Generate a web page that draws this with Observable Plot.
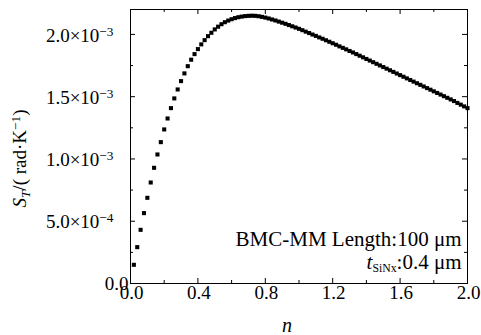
<!DOCTYPE html>
<html><head><meta charset="utf-8">
<script src="https://cdn.jsdelivr.net/npm/d3@7"></script>
<script src="https://cdn.jsdelivr.net/npm/@observablehq/plot@0.6"></script>
<style>
body{margin:0;background:#fff}
</style>
</head><body><div id="chart"></div>
<script>
// n values (x) and S_T values in units of 1e-3 rad/K (y)
const nValues = [
0.02,0.04,0.06,0.08,0.10,0.12,0.14,0.16,0.18,0.20,
0.22,0.24,0.26,0.28,0.30,0.32,0.34,0.36,0.38,0.40,
0.42,0.44,0.46,0.48,0.50,0.52,0.54,0.56,0.58,0.60,
0.62,0.64,0.66,0.68,0.70,0.72,0.74,0.76,0.78,0.80,
0.82,0.84,0.86,0.88,0.90,0.92,0.94,0.96,0.98,1.00,
1.02,1.04,1.06,1.08,1.10,1.12,1.14,1.16,1.18,1.20,
1.22,1.24,1.26,1.28,1.30,1.32,1.34,1.36,1.38,1.40,
1.42,1.44,1.46,1.48,1.50,1.52,1.54,1.56,1.58,1.60,
1.62,1.64,1.66,1.68,1.70,1.72,1.74,1.76,1.78,1.80,
1.82,1.84,1.86,1.88,1.90,1.92,1.94,1.96,1.98,2.00];
const stValues = [
0.150,0.292,0.431,0.565,0.688,0.811,0.929,1.036,1.135,1.237,
1.325,1.408,1.486,1.558,1.625,1.687,1.745,1.797,1.842,1.882,
1.920,1.954,1.986,2.013,2.040,2.062,2.082,2.098,2.111,2.122,
2.131,2.138,2.143,2.147,2.149,2.150,2.149,2.146,2.141,2.135,
2.128,2.120,2.112,2.103,2.094,2.085,2.075,2.065,2.055,2.045,
2.034,2.022,2.011,1.999,1.988,1.976,1.965,1.953,1.941,1.929,
1.917,1.904,1.892,1.880,1.867,1.855,1.842,1.829,1.816,1.803,
1.790,1.777,1.764,1.751,1.738,1.725,1.712,1.699,1.686,1.673,
1.660,1.647,1.634,1.621,1.608,1.595,1.582,1.569,1.556,1.543,
1.530,1.517,1.504,1.491,1.478,1.465,1.450,1.436,1.422,1.408];

const xTicks = [0, 0.4, 0.8, 1.2, 1.6, 2.0];
const xTickLabels = ["0.0", "0.4", "0.8", "1.2", "1.6", "2.0"];
const xMinorTicks = [0.2, 0.6, 1.0, 1.4, 1.8];
const yTicks = [0, 0.5e-3, 1.0e-3, 1.5e-3, 2.0e-3];
const yTickLabels = ["0.0", "5.0×10", "1.0×10", "1.5×10", "2.0×10"];
const yTickExponents = ["", "−4", "−3", "−3", "−3"];
const yMinorTicks = [0.25e-3, 0.75e-3, 1.25e-3, 1.75e-3];
const xLabel = "n";
const yLabelParts = ["S", "T", "/( rad·K", "−1", ")"];
const annotLine1 = "BMC-MM Length:100 μm";
const annotLine2Parts = ["t", "SiNx", ":0.4 μm"];

const data = nValues.map((n, i) => ({n, st: stValues[i] * 1e-3}));

const W = 481, H = 335, ML = 130, MR = 14, MT = 9, MB = 52;
const FW = W - ML - MR, FH = H - MT - MB;
const major = 5, minor = 3;
const fs = 19;
const FF = "Times New Roman, Liberation Serif, DejaVu Serif, serif";

const chart = Plot.plot({
  width: W, height: H,
  marginLeft: ML, marginRight: MR, marginTop: MT, marginBottom: MB,
  style: {color: "black", background: "white"},
  x: {domain: [0, 2.0], axis: null},
  y: {domain: [0, 2.2e-3], axis: null},
  marks: [
    Plot.frame({stroke: "black", strokeWidth: 1}),
    // inward ticks
    Plot.tickX(xTicks, {x: d => d, insetTop: FH - major, stroke: "black"}),
    Plot.tickX(xTicks, {x: d => d, insetBottom: FH - major, stroke: "black"}),
    Plot.tickX(xMinorTicks, {x: d => d, insetTop: FH - minor, stroke: "black"}),
    Plot.tickX(xMinorTicks, {x: d => d, insetBottom: FH - minor, stroke: "black"}),
    Plot.tickY(yTicks, {y: d => d, insetRight: FW - major, stroke: "black"}),
    Plot.tickY(yTicks, {y: d => d, insetLeft: FW - major, stroke: "black"}),
    Plot.tickY(yMinorTicks, {y: d => d, insetRight: FW - minor, stroke: "black"}),
    Plot.tickY(yMinorTicks, {y: d => d, insetLeft: FW - minor, stroke: "black"}),
    // tick labels
    Plot.text(xTicks, {x: d => d, text: d => xTickLabels[xTicks.indexOf(d)], frameAnchor: "bottom", lineAnchor: "top", dy: 2, dx: 1, fontSize: fs, fill: "black"}),
    Plot.text(yTicks.slice(1), {y: d => d, text: d => yTickLabels[yTicks.indexOf(d)], frameAnchor: "left", textAnchor: "end", dx: -17, dy: 1, fontSize: fs, fill: "black"}),
    Plot.text(yTicks.slice(0, 1), {y: d => d, text: d => yTickLabels[yTicks.indexOf(d)], frameAnchor: "left", textAnchor: "end", dx: -2, fontSize: fs, fill: "black"}),
    // data
    Plot.dot(data, {x: "n", y: "st", symbol: "square", r: 2.3, fill: "black", stroke: "none"}),
    // axis titles
    Plot.text([xLabel], {frameAnchor: "bottom", lineAnchor: "bottom", dy: 48, dx: -12, fontSize: 20, fontStyle: "italic", fill: "black"}),
    Plot.text([yLabelParts.join("")], {frameAnchor: "left", textAnchor: "middle", rotate: -90, dx: -111, dy: 12, fontSize: fs, fill: "black"}),
    // annotation
    Plot.text([annotLine1], {frameAnchor: "bottom-right", textAnchor: "end", lineAnchor: "bottom", dx: -6, dy: -38, fontSize: 21, fill: "black"}),
    Plot.text([annotLine2Parts.join("")], {frameAnchor: "bottom-right", textAnchor: "end", lineAnchor: "bottom", dx: -6, dy: -15, fontSize: 21, fill: "black"})
  ]
});

document.getElementById("chart").appendChild(chart);

const svg = d3.select(chart);
// serif font on every text
svg.attr("font-family", FF).style("font-family", FF);
svg.selectAll("text").attr("font-family", FF).style("font-family", FF);

// rich text post-processing (superscripts, subscripts, italics)
svg.selectAll("text").each(function() {
  const t = this.textContent;
  const sel = d3.select(this);
  const yi = yTickLabels.indexOf(t);
  if (yi > 0) {
    sel.append("tspan").attr("font-size", "0.7em").attr("dy", "-0.45em").text(yTickExponents[yi]);
  } else if (t === yLabelParts.join("")) {
    sel.text(null);
    sel.append("tspan").attr("font-style", "italic").text(yLabelParts[0]);
    sel.append("tspan").attr("font-style", "italic").attr("font-size", "0.7em").attr("dy", "0.3em").text(yLabelParts[1]);
    sel.append("tspan").attr("dy", "-0.21em").text(yLabelParts[2]);
    sel.append("tspan").attr("font-size", "0.7em").attr("dy", "-0.45em").text(yLabelParts[3]);
    sel.append("tspan").attr("dy", "0.315em").text(yLabelParts[4]);
  } else if (t === annotLine2Parts.join("")) {
    sel.text(null);
    sel.append("tspan").attr("font-style", "italic").text(annotLine2Parts[0]);
    sel.append("tspan").attr("font-size", "0.56em").attr("dy", "0.3em").text(annotLine2Parts[1]);
    sel.append("tspan").attr("dy", "-0.168em").text(annotLine2Parts[2]);
  }
});
</script>
</body></html>
